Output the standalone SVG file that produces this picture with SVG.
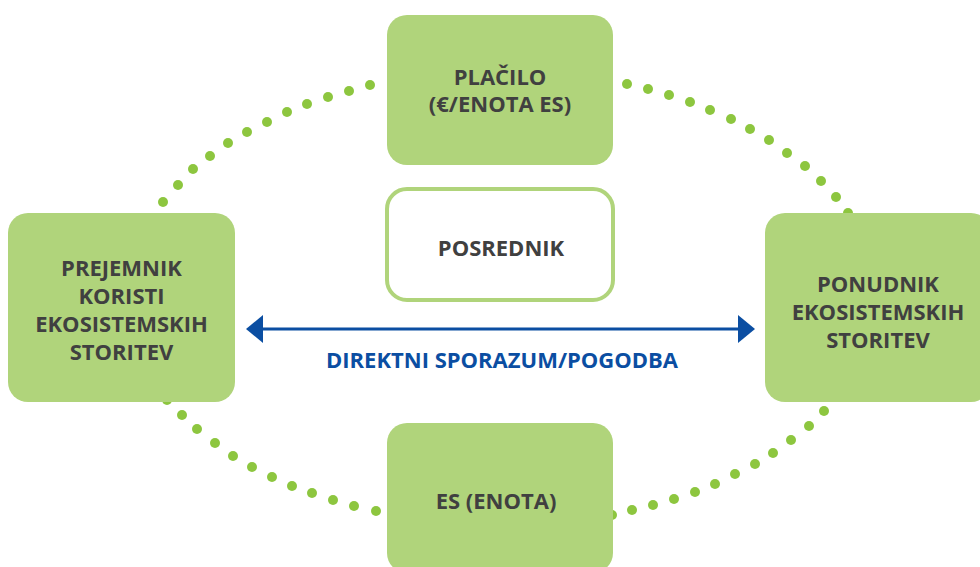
<svg xmlns="http://www.w3.org/2000/svg" width="980" height="567" viewBox="0 0 980 567">
  <style>
    .box { fill: #b0d47b; }
    .mid { fill: #ffffff; stroke: #b0d47b; stroke-width: 4; }
    .lbl { font-family: "Open Sans", "Noto Sans", "DejaVu Sans", sans-serif; font-weight: bold; font-size: 22px; fill: #404040; text-anchor: middle; }
    .blue { fill: #0b4ea2; }
    .ring { fill: none; stroke: none; marker-start: url(#dot); marker-mid: url(#dot); marker-end: url(#dot); }
    .arrow { stroke: #0b4ea2; stroke-width: 3; fill: none; }
  </style>
  <defs>
    <marker id="dot" markerWidth="12" markerHeight="12" refX="6" refY="6" markerUnits="userSpaceOnUse">
      <circle cx="6" cy="6" r="5" fill="#8dc63f"/>
    </marker>
  </defs>
  <rect width="980" height="567" fill="#ffffff"/>
  <g id="connectors">
    <path class="ring" d="M163,202 L178,185 L193,169 L210,156 L228,143 L247,132 L267,122 L287,112 L307,104 L328,97 L349,91 L370,85"/>
    <path class="ring" d="M627,84 L648,89 L669,95 L690,102 L710,110 L731,119 L750,129 L769,140 L787,153 L805,166 L821,181 L836,197 L848,213"/>
    <path class="ring" d="M167,400 L182,415 L197,429 L215,443 L233,456 L252,467 L272,477 L292,486 L312,493 L333,500 L354,506 L376,511"/>
    <path class="ring" d="M612,515 L632,510 L653,505 L674,499 L695,492 L715,484 L735,474 L755,464 L773,453 L791,440 L809,426 L824,411"/>
    <g id="agreement">
      <line class="arrow" x1="260" y1="329" x2="741" y2="329"/>
      <polygon class="blue" points="246,329 263,315 263,343"/>
      <polygon class="blue" points="755,329 738,315 738,343"/>
      <text class="lbl" x="502" y="368" style="fill:#0b4ea2">DIREKTNI SPORAZUM/POGODBA</text>
    </g>
  </g>
  <g id="placilo">
    <rect class="box" x="387" y="15" width="226" height="150" rx="20"/>
    <text class="lbl" x="500" y="85">PLAČILO</text>
    <text class="lbl" x="500" y="112">(€/ENOTA ES)</text>
  </g>
  <g id="posrednik">
    <rect class="mid" x="387" y="189" width="226" height="111" rx="20"/>
    <text class="lbl" x="501" y="256">POSREDNIK</text>
  </g>
  <g id="prejemnik">
    <rect class="box" x="8" y="213" width="227" height="189" rx="20"/>
    <text class="lbl" x="121.5" y="276">PREJEMNIK</text>
    <text class="lbl" x="121.5" y="304">KORISTI</text>
    <text class="lbl" x="121.5" y="332">EKOSISTEMSKIH</text>
    <text class="lbl" x="121.5" y="360">STORITEV</text>
  </g>
  <g id="ponudnik">
    <rect class="box" x="765" y="213" width="226" height="189" rx="20"/>
    <text class="lbl" x="878" y="292">PONUDNIK</text>
    <text class="lbl" x="878" y="320">EKOSISTEMSKIH</text>
    <text class="lbl" x="878" y="348">STORITEV</text>
  </g>
  <g id="es-enota">
    <rect class="box" x="387" y="423" width="226" height="150" rx="20"/>
    <text class="lbl" x="496" y="509">ES (ENOTA)</text>
  </g>
</svg>
